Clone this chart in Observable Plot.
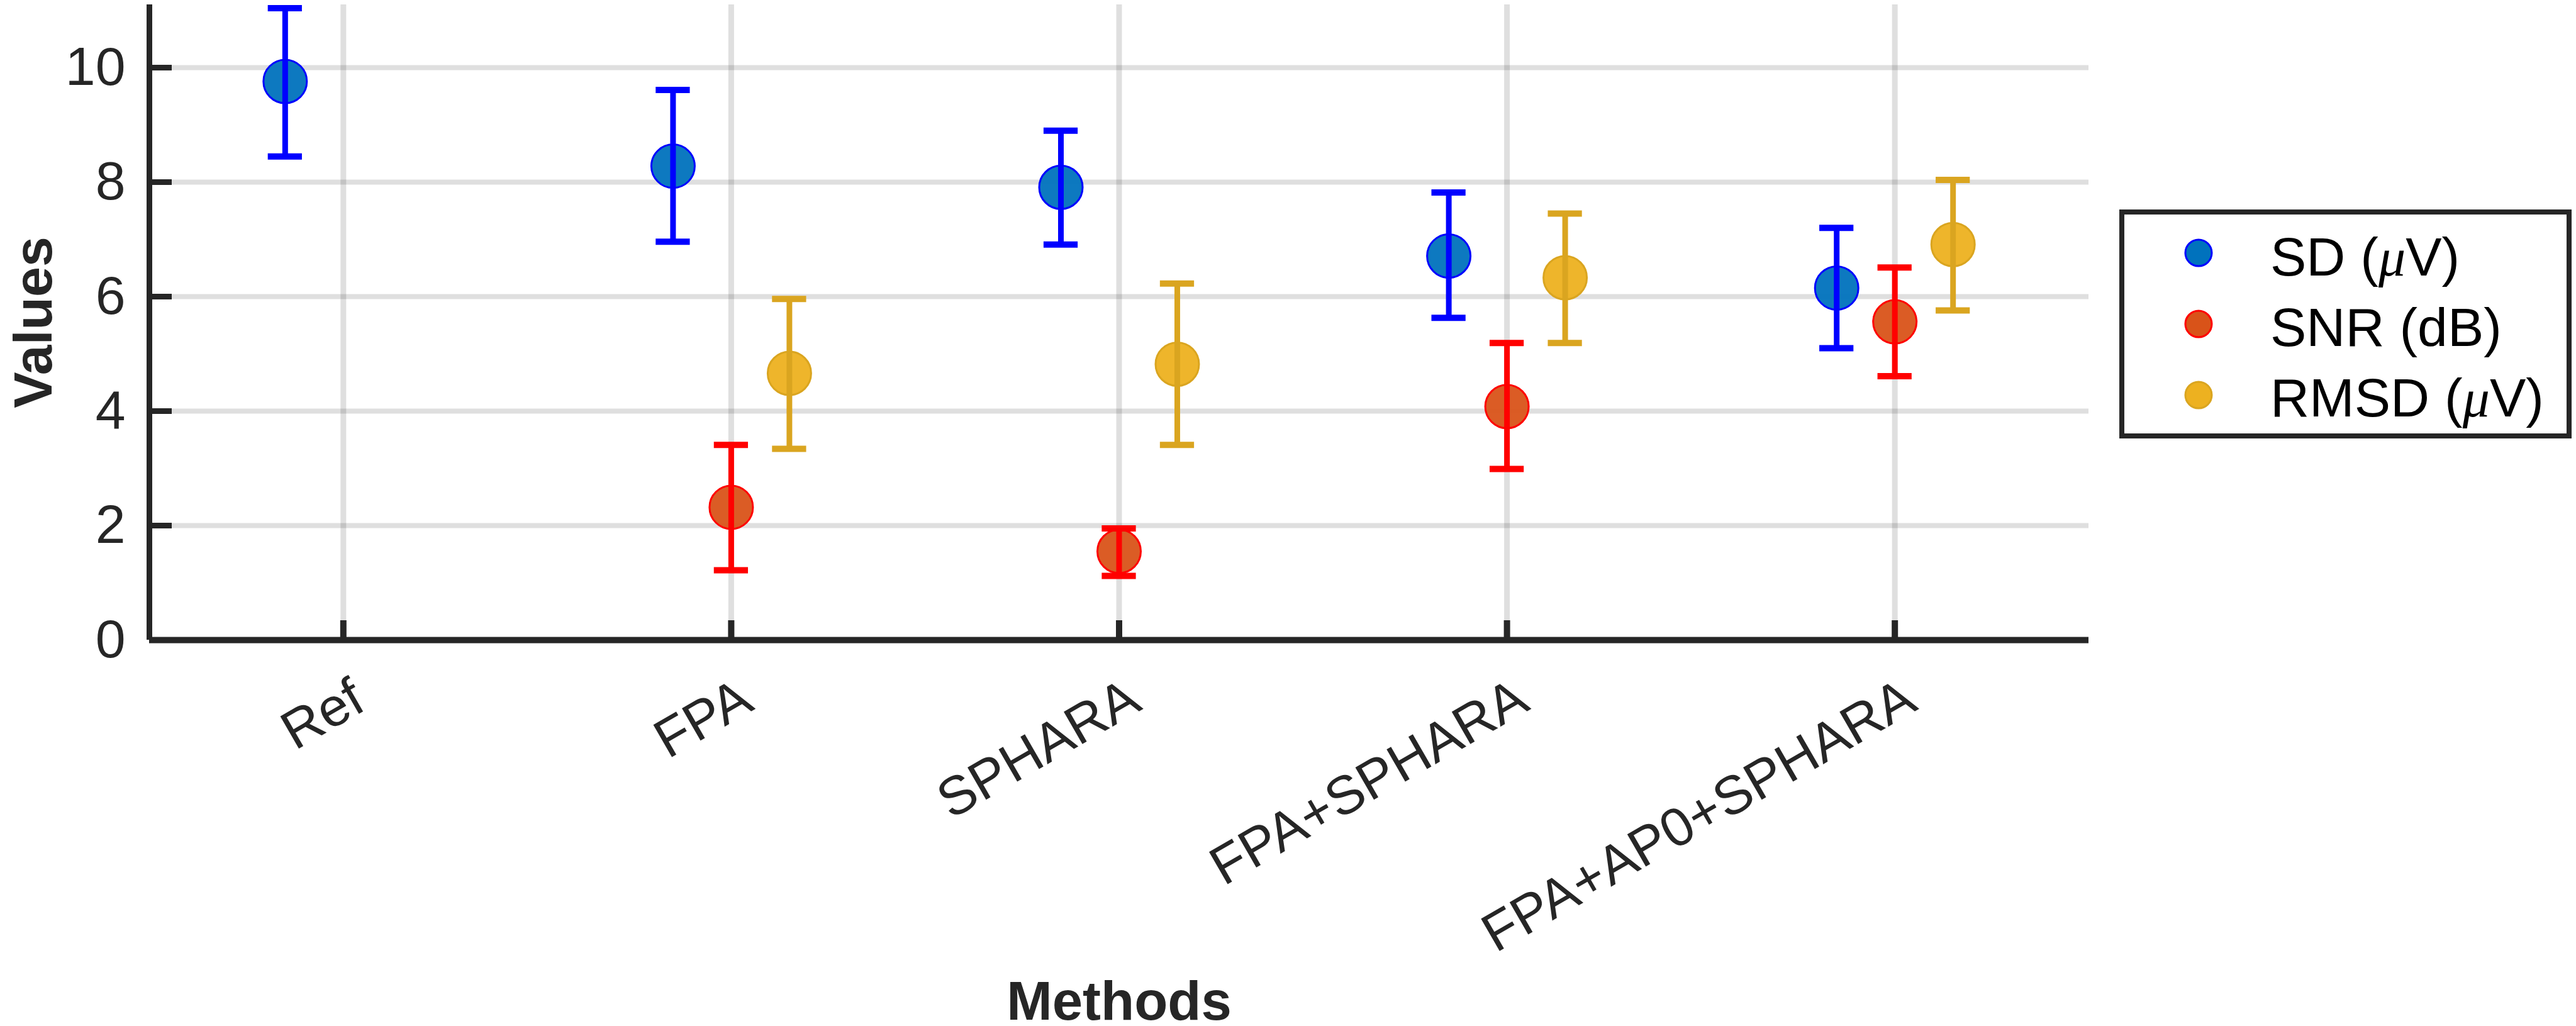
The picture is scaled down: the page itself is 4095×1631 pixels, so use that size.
<!DOCTYPE html>
<html>
<head>
<meta charset="utf-8">
<script src="https://cdn.jsdelivr.net/npm/d3@7"></script>
<script src="https://cdn.jsdelivr.net/npm/@observablehq/plot@0.6"></script>
<style>
  html, body { margin: 0; padding: 0; background: white; }
  #wrap { position: relative; width: 4095px; height: 1631px; font-family: 'Liberation Sans', Arial, Helvetica, sans-serif; }
  #legend { position: absolute; left: 3369px; top: 333px; width: 719px; height: 364px; box-sizing: border-box; border: 8px solid #262626; background: white; }
</style>
</head>
<body>
<div id="wrap"></div>
<script>
// ---- data ----
const methods = ["Ref", "FPA", "SPHARA", "FPA+SPHARA", "FPA+AP0+SPHARA"];
const seriesNames = ["SD (μV)", "SNR (dB)", "RMSD (μV)"];
const seriesOffsets = [-0.15, 0, 0.15];

const sdMean = [9.76, 8.28, 7.91, 6.71, 6.15];
const sdLow  = [8.45, 6.96, 6.91, 5.63, 5.10];
const sdHigh = [11.04, 9.61, 8.90, 7.82, 7.20];

const snrMean = [null, 2.32, 1.55, 4.08, 5.56];
const snrLow  = [null, 1.22, 1.12, 2.99, 4.61];
const snrHigh = [null, 3.41, 1.95, 5.19, 6.51];

const rmsdMean = [null, 4.66, 4.82, 6.33, 6.91];
const rmsdLow  = [null, 3.34, 3.41, 5.19, 5.76];
const rmsdHigh = [null, 5.96, 6.23, 7.45, 8.04];

const yTicks = [0, 2, 4, 6, 8, 10];

// ---- styles ----
const dotFill = ["#0072BD", "#D95319", "#EDB120"];
const dotStroke = ["#0000FF", "#FF0000", "#DAA520"];
const barColor = ["#0000FF", "#FF0000", "#DAA520"];

const means = [sdMean, snrMean, rmsdMean];
const lows = [sdLow, snrLow, rmsdLow];
const highs = [sdHigh, snrHigh, rmsdHigh];

const series = seriesNames.map((name, s) => {
  const rows = [];
  methods.forEach((m, i) => {
    if (means[s][i] != null) rows.push({x: i + 1 + seriesOffsets[s], mean: means[s][i], low: lows[s][i], high: highs[s][i], method: m, series: name});
  });
  return rows;
});

const ink = "#262626";
const capHalf = 0.044;

const marks = [
  Plot.gridY([2, 4, 6, 8, 10], {stroke: ink, strokeOpacity: 0.15, strokeWidth: 8}),
  Plot.gridX([1, 2, 3, 4, 5], {stroke: ink, strokeOpacity: 0.15, strokeWidth: 9}),
  Plot.axisY({ticks: yTicks, tickSize: 0, tickPadding: 38, fontSize: 86, tickFormat: d => String(d), label: null}),
  Plot.axisY({ticks: yTicks, tickSize: -36, strokeWidth: 9, stroke: ink, tickFormat: () => "", label: null}),
  Plot.axisX({ticks: [1, 2, 3, 4, 5], tickSize: -31, strokeWidth: 10, stroke: ink, tickFormat: () => "", label: null}),
  Plot.ruleX([0.5], {stroke: ink, strokeWidth: 9}),
  Plot.ruleY([0], {stroke: ink, strokeWidth: 10})
];

series.forEach((rows, s) => {
  marks.push(
    Plot.dot(rows, {x: "x", y: "mean", r: 34.5, fill: dotFill[s], stroke: dotStroke[s], strokeWidth: 3, fillOpacity: 0.95}),
    Plot.ruleX(rows, {x: "x", y1: "low", y2: "high", stroke: barColor[s], strokeWidth: 9}),
    Plot.ruleY(rows, {y: "high", x1: d => d.x - capHalf, x2: d => d.x + capHalf, stroke: barColor[s], strokeWidth: 10}),
    Plot.ruleY(rows, {y: "low", x1: d => d.x - capHalf, x2: d => d.x + capHalf, stroke: barColor[s], strokeWidth: 10})
  );
});

marks.push(
  Plot.text(methods, {x: (d, i) => i + 1, y: () => 0, text: d => d, rotate: -30, textAnchor: "end", lineAnchor: "bottom", dy: 109, dx: 39, fontSize: 86, fill: ink}),
  Plot.text(["Methods"], {frameAnchor: "bottom", text: d => d, dy: 603, textAnchor: "middle", lineAnchor: "bottom", fontSize: 87, fontWeight: "bold", fill: ink}),
  Plot.text(["Values"], {frameAnchor: "left", text: d => d, rotate: -90, dx: -156, textAnchor: "middle", lineAnchor: "bottom", fontSize: 86, fontWeight: "bold", fill: ink})
);

const chart = Plot.plot({
  width: 4095,
  height: 1631,
  marginLeft: 237,
  marginRight: 775,
  marginTop: 7,
  marginBottom: 614,
  x: {type: "linear", domain: [0.5, 5.5]},
  y: {domain: [0, 11.1]},
  style: {fontFamily: "'Liberation Sans', Arial, Helvetica, sans-serif", color: ink, background: "white", overflow: "visible"},
  marks
});

const wrap = document.getElementById("wrap");
wrap.appendChild(chart);

// ---- legend ----
const legend = document.createElement("div");
legend.id = "legend";
const ns = "http://www.w3.org/2000/svg";
const lsvg = document.createElementNS(ns, "svg");
lsvg.setAttribute("width", "703");
lsvg.setAttribute("height", "348");
lsvg.style.overflow = "visible";
const legendMarkY = [61, 174, 287];
const legendBaseY = [97, 209, 321];
seriesNames.forEach((name, s) => {
  const c = document.createElementNS(ns, "circle");
  c.setAttribute("cx", 118);
  c.setAttribute("cy", legendMarkY[s]);
  c.setAttribute("r", 21);
  c.setAttribute("fill", dotFill[s]);
  c.setAttribute("stroke", dotStroke[s]);
  c.setAttribute("stroke-width", 3);
  lsvg.appendChild(c);
  const t = document.createElementNS(ns, "text");
  t.setAttribute("x", 232);
  t.setAttribute("y", legendBaseY[s]);
  t.setAttribute("font-size", 86);
  t.setAttribute("fill", "#000");
  t.setAttribute("font-family", "'Liberation Sans', Arial, sans-serif");
  const parts = name.split("μ");
  const t1 = document.createElementNS(ns, "tspan");
  t1.textContent = parts[0];
  t.appendChild(t1);
  if (parts.length > 1) {
    const tm = document.createElementNS(ns, "tspan");
    tm.textContent = "μ";
    tm.setAttribute("font-style", "italic");
    tm.setAttribute("font-family", "'Liberation Serif', 'DejaVu Serif', serif");
    t.appendChild(tm);
    const t2 = document.createElementNS(ns, "tspan");
    t2.textContent = parts[1];
    t.appendChild(t2);
  }
  lsvg.appendChild(t);
});
legend.appendChild(lsvg);
wrap.appendChild(legend);
</script>
</body>
</html>
